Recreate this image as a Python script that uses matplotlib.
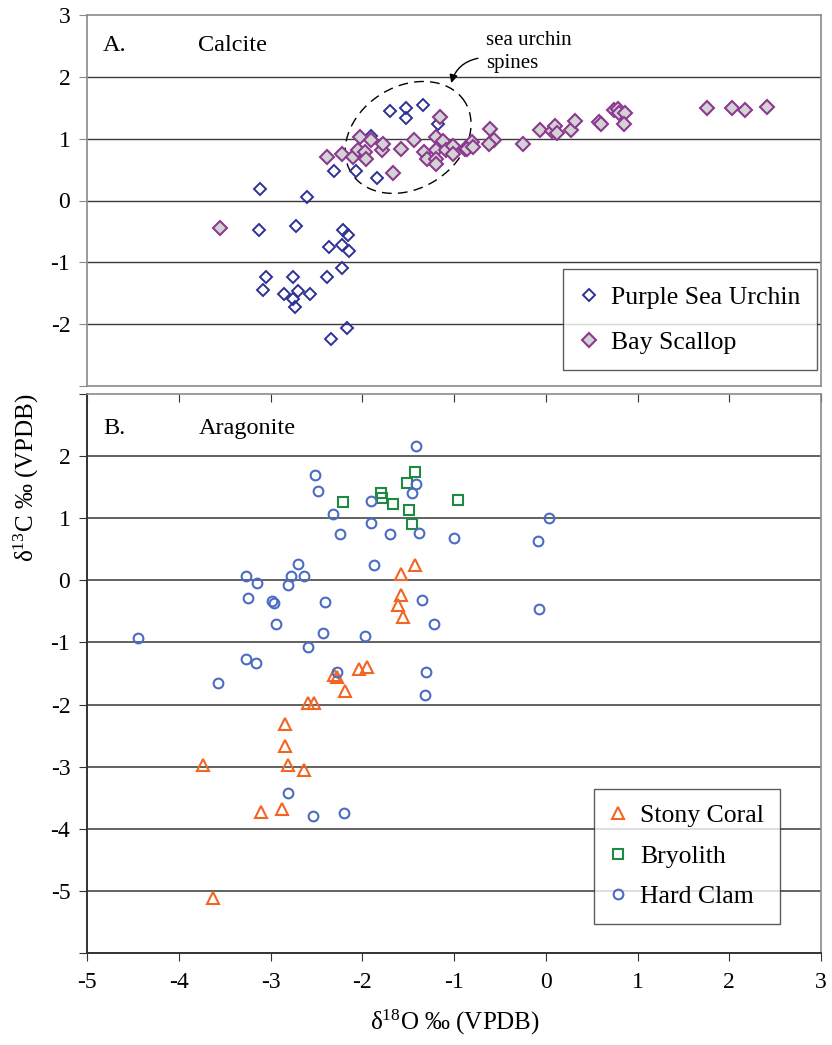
import numpy as np
import matplotlib
matplotlib.use("Agg")
import matplotlib.pyplot as plt

plt.rcParams['font.family'] = ['Liberation Serif', 'DejaVu Serif']
plt.rcParams['mathtext.fontset'] = 'custom'
plt.rcParams['mathtext.rm'] = 'Liberation Serif'
plt.rcParams['mathtext.it'] = 'Liberation Serif:italic'

# --- panel A: calcite ---
urchin_x = [-1.70, -1.52, -1.52, -1.34, -1.17, -1.90, -2.31, -2.07, -1.84, -3.11,
            -2.60, -3.12, -2.72, -2.21, -2.15, -2.36, -2.22, -2.14, -2.22, -3.05,
            -2.75, -2.38, -3.08, -2.85, -2.70, -2.57, -2.75, -2.73, -2.17, -2.34]
urchin_y = [1.45, 1.49, 1.33, 1.54, 1.23, 1.05, 0.48, 0.48, 0.36, 0.19,
            0.05, -0.48, -0.42, -0.48, -0.56, -0.76, -0.72, -0.82, -1.09, -1.23,
            -1.23, -1.23, -1.45, -1.51, -1.47, -1.51, -1.60, -1.72, -2.07, -2.24]

scallop_x = [-3.55, -2.38, -2.22, -2.10, -2.05, -2.02, -1.97, -1.96, -1.90, -1.78,
             -1.77, -1.67, -1.58, -1.435, -1.33, -1.29, -1.20, -1.195, -1.20, -1.195,
             -1.15, -1.12, -1.09, -1.01, -1.01, -0.88, -0.80, -0.86, -0.79, -0.61,
             -0.56, -0.615, -0.245, -0.06, 0.07, 0.10, 0.12, 0.27, 0.32, 0.58,
             0.60, 0.74, 0.79, 0.80, 0.865, 0.85, 1.76, 2.025, 2.17, 2.41]
scallop_y = [-0.45, 0.70, 0.75, 0.70, 0.82, 1.02, 0.79, 0.67, 0.98, 0.82,
             0.91, 0.44, 0.84, 0.98, 0.79, 0.67, 1.02, 0.82, 0.67, 0.59,
             1.35, 0.96, 0.82, 0.88, 0.75, 0.83, 0.94, 0.83, 0.86, 1.155,
             0.98, 0.91, 0.92, 1.14, 1.12, 1.21, 1.085, 1.14, 1.29, 1.27,
             1.24, 1.46, 1.48, 1.41, 1.41, 1.24, 1.49, 1.49, 1.46, 1.52]

# --- panel B: aragonite ---
coral_x = [-1.42, -1.58, -1.58, -1.61, -1.56, -2.03, -1.95, -2.31, -2.28, -2.19,
           -2.595, -2.53, -2.845, -2.845, -3.74, -2.81, -2.64, -3.10, -2.88, -3.63]
coral_y = [0.25, 0.11, -0.235, -0.40, -0.59, -1.42, -1.39, -1.52, -1.55, -1.78,
           -1.97, -1.97, -2.32, -2.67, -2.98, -2.98, -3.06, -3.73, -3.68, -5.12]

bryo_x = [-2.21, -1.80, -1.79, -1.67, -1.43, -1.51, -1.49, -1.46, -0.96]
bryo_y = [1.26, 1.40, 1.32, 1.235, 1.74, 1.57, 1.13, 0.90, 1.29]

clam_x = [-1.41, -2.51, -2.48, -1.41, -1.46, -1.91, -2.32, -1.91, -2.24, -1.695,
          -1.38, -1.00, -2.70, -1.87, -3.27, -2.78, -2.63, -3.15, -2.81, -3.245,
          -2.98, -2.965, -2.41, -1.35, -2.94, -1.22, -4.44, -2.43, -1.975, -2.59,
          -3.27, -3.16, -2.28, -1.30, -3.575, -1.315, -2.81, -2.54, -2.20, 0.04,
          -0.08, -0.07]
clam_y = [2.16, 1.69, 1.44, 1.55, 1.41, 1.27, 1.07, 0.93, 0.74, 0.74,
          0.76, 0.68, 0.27, 0.24, 0.07, 0.07, 0.07, -0.04, -0.07, -0.29,
          -0.34, -0.37, -0.35, -0.32, -0.71, -0.71, -0.93, -0.85, -0.90, -1.07,
          -1.27, -1.33, -1.47, -1.47, -1.65, -1.85, -3.43, -3.79, -3.74, 1.01,
          0.63, -0.46]

x_ticks = [-5, -4, -3, -2, -1, 0, 1, 2, 3]
top_yticks = [-3, -2, -1, 0, 1, 2, 3]
bot_yticks = [-6, -5, -4, -3, -2, -1, 0, 1, 2, 3]

W, H = 832, 1045
fig = plt.figure(figsize=(W / 100, H / 100), dpi=100)
ax1 = fig.add_axes([87 / W, 1 - 386 / H, 734 / W, 371 / H])
ax2 = fig.add_axes([87 / W, 1 - 953 / H, 734 / W, 559 / H])

tick_fs = 17
grid_col = '#3a3a3a'

def lab(v, lo, hi):
    return '' if v in (lo, hi) else str(v)

# panel A
ax1.set_xlim(-5, 3)
ax1.set_ylim(-3, 3)
ax1.set_xticks(x_ticks)
ax1.tick_params(axis='x', bottom=False, labelbottom=False)
ax1.set_yticks(top_yticks)
ax1.set_yticklabels([lab(v, -3, 99) for v in top_yticks])
for v in top_yticks[1:-1]:
    ax1.axhline(v, color=grid_col, lw=1.0, zorder=1)
for s in ax1.spines.values():
    s.set_color('#8a8a8a')
    s.set_linewidth(1.2)
ax1.tick_params(axis='y', direction='out', length=6, color='#8a8a8a',
                labelsize=tick_fs, pad=6)

ax1.plot(urchin_x, urchin_y, ls='none', marker='D', ms=6.0, mfc='none',
         mec='#2e3192', mew=1.4, zorder=3, label='Purple Sea Urchin')
ax1.plot(scallop_x, scallop_y, ls='none', marker='D', ms=7.0, mfc='#d3d3d3',
         mec='#8b3a8f', mew=1.5, zorder=4, label='Bay Scallop')

# dashed ellipse round the spines (drawn in pixel units, then mapped to data)
px_x = 734 / 8.0
px_y = 371 / 6.0
t = np.linspace(0, 2 * np.pi, 200)
th = np.deg2rad(32)
a, b = 67, 51
ex = -1.50 + (a * np.cos(t) * np.cos(th) - b * np.sin(t) * np.sin(th)) / px_x
ey = 1.02 + (a * np.cos(t) * np.sin(th) + b * np.sin(t) * np.cos(th)) / px_y
ax1.plot(ex, ey, color='k', lw=1.0, ls=(0, (7, 4.5)), zorder=2)

ax1.text(-0.651, 2.74, 'sea urchin\nspines', fontsize=15, va='top', ha='left',
         linespacing=1.3)
ax1.annotate('', xy=(-1.03, 1.90), xytext=(-0.74, 2.30),
             arrowprops=dict(arrowstyle='-|>', color='k', lw=1.0,
                             connectionstyle='arc3,rad=0.3',
                             mutation_scale=12, shrinkA=0, shrinkB=0))

ax1.text(0.022, 0.919, 'A.', transform=ax1.transAxes, fontsize=17.5, va='center')
ax1.text(0.151, 0.919, 'Calcite', transform=ax1.transAxes, fontsize=17.5, va='center')

leg1 = ax1.legend(loc='upper left', bbox_to_anchor=(0.6485, 0.3154),
                  borderaxespad=0, fontsize=18.5, frameon=True, fancybox=False,
                  borderpad=0.65, handlelength=0.7, handletextpad=0.5,
                  labelspacing=0.85, numpoints=1)
leg1.get_frame().set_edgecolor('#333333')
leg1.get_frame().set_linewidth(1.0)

# panel B
ax2.set_xlim(-5, 3)
ax2.set_ylim(-6, 3)
ax2.set_xticks(x_ticks)
ax2.set_xticklabels([str(v) for v in x_ticks])
ax2.set_yticks(bot_yticks)
ax2.set_yticklabels([lab(v, -6, 3) for v in bot_yticks])
for v in bot_yticks[1:-1]:
    ax2.axhline(v, color='#555555', lw=1.3, zorder=1)
for k in ('left', 'bottom'):
    ax2.spines[k].set_color('#333333')
    ax2.spines[k].set_linewidth(1.4)
for k in ('top', 'right'):
    ax2.spines[k].set_color('#8a8a8a')
    ax2.spines[k].set_linewidth(1.2)
ax2.tick_params(axis='y', direction='out', length=6, color='#333333',
                labelsize=tick_fs, pad=6)
ax2.tick_params(axis='x', direction='out', length=6, color='#333333',
                labelsize=tick_fs, pad=8, top=True)
for tk in ax2.xaxis.get_major_ticks():
    tk.tick2line.set_marker(3)  # tick hangs down from the top edge
    tk.tick2line.set_markersize(6)

ax2.plot(coral_x, coral_y, ls='none', marker='^', ms=8.5, mfc='none',
         mec='#f26522', mew=1.5, zorder=3, label='Stony Coral')
ax2.plot(bryo_x, bryo_y, ls='none', marker='s', ms=7.0, mfc='none',
         mec='#1e8a44', mew=1.5, zorder=3, label='Bryolith')
ax2.plot(clam_x, clam_y, ls='none', marker='o', ms=7.0, mfc='none',
         mec='#4a6cc2', mew=1.5, zorder=3, label='Hard Clam')

ax2.text(0.022, 0.939, 'B.', transform=ax2.transAxes, fontsize=17.5, va='center')
ax2.text(0.1526, 0.939, 'Aragonite', transform=ax2.transAxes, fontsize=17.5, va='center')

leg2 = ax2.legend(loc='upper left', bbox_to_anchor=(0.6907, 0.2934),
                  borderaxespad=0, fontsize=18.5, frameon=True, fancybox=False,
                  borderpad=0.6, handlelength=0.7, handletextpad=0.5,
                  labelspacing=0.68, numpoints=1)
leg2.get_frame().set_edgecolor('#333333')
leg2.get_frame().set_linewidth(1.0)

fig.text(455 / W, 1 - 1022 / H, 'δ$^{18}$O ‰ (VPDB)', fontsize=18,
         ha='center', va='center')
fig.text(26 / W, 1 - 478 / H, 'δ$^{13}$C ‰ (VPDB)', fontsize=18,
         ha='center', va='center', rotation=90)

fig.savefig('out.png', dpi=100)
